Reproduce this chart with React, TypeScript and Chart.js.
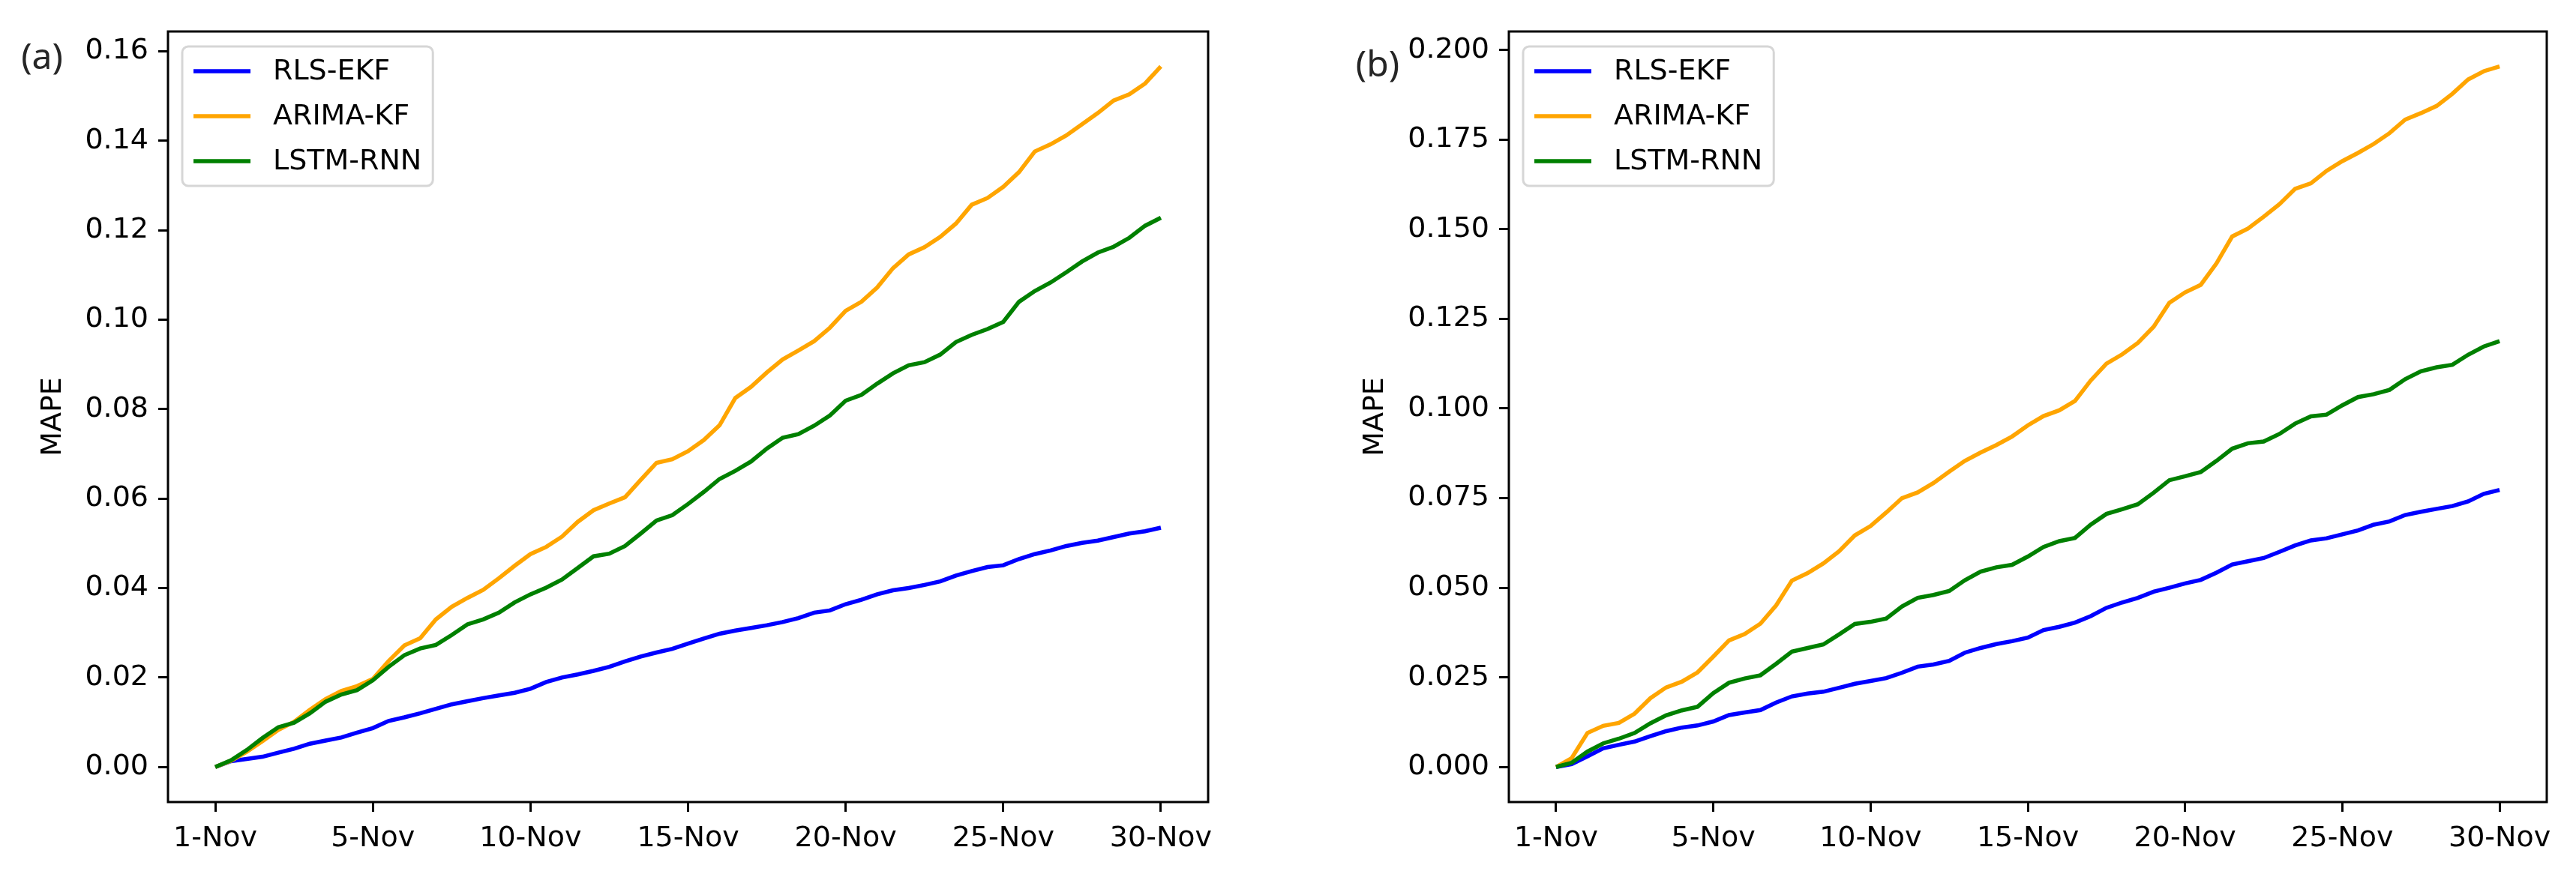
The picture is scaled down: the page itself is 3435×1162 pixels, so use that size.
import React, { useEffect, useRef } from 'react';
import { Chart, registerables } from 'chart.js';

Chart.register(...registerables);
Chart.defaults.font.family = "'DejaVu Sans', 'Liberation Sans', sans-serif";

const xTickLabels = ['1-Nov', '5-Nov', '10-Nov', '15-Nov', '20-Nov', '25-Nov', '30-Nov'];
const seriesNames = ['RLS-EKF', 'ARIMA-KF', 'LSTM-RNN'];
const seriesColors = ['#0000ff', '#ffa500', '#008000'];

const yTicksA = [0, 0.02, 0.04, 0.06, 0.08, 0.1, 0.12, 0.14, 0.16];
const yTicksB = [0, 0.025, 0.05, 0.075, 0.1, 0.125, 0.15, 0.175, 0.2];

const aRlsEkf = [0, 0.0013, 0.0018, 0.0023, 0.0032, 0.0041, 0.0052, 0.0059, 0.0066, 0.0077,
  0.0087, 0.0103, 0.0111, 0.0120, 0.0130, 0.0140, 0.0147, 0.0154, 0.0160, 0.0166,
  0.0175, 0.0190, 0.0200, 0.0207, 0.0215, 0.0224, 0.0236, 0.0247, 0.0256, 0.0264,
  0.0276, 0.0287, 0.0298, 0.0305, 0.0311, 0.0317, 0.0324, 0.0333, 0.0345, 0.0350,
  0.0364, 0.0374, 0.0386, 0.0395, 0.0400, 0.0407, 0.0415, 0.0428, 0.0438, 0.0447,
  0.0451, 0.0465, 0.0476, 0.0484, 0.0494, 0.0501, 0.0506, 0.0514, 0.0522, 0.0527,
  0.0535];
const aArimaKf = [0, 0.0014, 0.0034, 0.0058, 0.0083, 0.0101, 0.0128, 0.0152, 0.0170, 0.0181,
  0.0197, 0.0237, 0.0272, 0.0288, 0.0330, 0.0358, 0.0378, 0.0396, 0.0422, 0.0450,
  0.0476, 0.0492, 0.0515, 0.0548, 0.0574, 0.0589, 0.0603, 0.0642, 0.0680, 0.0688,
  0.0706, 0.0731, 0.0764, 0.0825, 0.0850, 0.0882, 0.0911, 0.0931, 0.0952, 0.0982,
  0.1020, 0.1040, 0.1072, 0.1115, 0.1146, 0.1162, 0.1185, 0.1215, 0.1257, 0.1272,
  0.1297, 0.1330, 0.1376, 0.1392, 0.1412, 0.1437, 0.1462, 0.1490, 0.1504, 0.1528,
  0.1566];
const aLstmRnn = [0, 0.0015, 0.0038, 0.0065, 0.0089, 0.0099, 0.0120, 0.0146, 0.0162, 0.0172,
  0.0194, 0.0224, 0.0250, 0.0265, 0.0273, 0.0295, 0.0319, 0.0330, 0.0345, 0.0368,
  0.0386, 0.0401, 0.0419, 0.0445, 0.0471, 0.0477, 0.0494, 0.0522, 0.0551, 0.0563,
  0.0588, 0.0615, 0.0644, 0.0662, 0.0683, 0.0712, 0.0736, 0.0744, 0.0763, 0.0786,
  0.0819, 0.0832, 0.0857, 0.0880, 0.0898, 0.0905, 0.0922, 0.0950, 0.0966, 0.0979,
  0.0995, 0.1040, 0.1064, 0.1083, 0.1106, 0.1130, 0.1150, 0.1163, 0.1183, 0.1210,
  0.1228];

const bRlsEkf = [0, 0.0008, 0.0030, 0.0052, 0.0062, 0.0071, 0.0086, 0.0100, 0.0110, 0.0116,
  0.0127, 0.0145, 0.0152, 0.0159, 0.0180, 0.0197, 0.0205, 0.0210, 0.0221, 0.0232,
  0.0240, 0.0248, 0.0263, 0.0280, 0.0286, 0.0296, 0.0319, 0.0332, 0.0343, 0.0351,
  0.0361, 0.0382, 0.0391, 0.0403, 0.0421, 0.0444, 0.0459, 0.0472, 0.0489, 0.0500,
  0.0512, 0.0522, 0.0542, 0.0565, 0.0574, 0.0583, 0.0600, 0.0618, 0.0632, 0.0638,
  0.0649, 0.0660, 0.0676, 0.0685, 0.0703, 0.0712, 0.0720, 0.0728, 0.0741, 0.0762,
  0.0773];
const bArimaKf = [0, 0.0025, 0.0095, 0.0115, 0.0123, 0.0149, 0.0192, 0.0222, 0.0238, 0.0264,
  0.0308, 0.0353, 0.0371, 0.0400, 0.0451, 0.0520, 0.0541, 0.0568, 0.0602, 0.0646,
  0.0672, 0.0710, 0.0750, 0.0766, 0.0792, 0.0824, 0.0854, 0.0877, 0.0898, 0.0922,
  0.0953, 0.0979, 0.0995, 0.1021, 0.1078, 0.1125, 0.1151, 0.1183, 0.1228, 0.1295,
  0.1324, 0.1345, 0.1405, 0.1480, 0.1502, 0.1535, 0.1570, 0.1613, 0.1628, 0.1663,
  0.1690, 0.1713, 0.1738, 0.1768, 0.1806, 0.1824, 0.1844, 0.1878, 0.1918, 0.1941,
  0.1954];
const bLstmRnn = [0, 0.0012, 0.0043, 0.0066, 0.0079, 0.0095, 0.0122, 0.0144, 0.0158, 0.0168,
  0.0206, 0.0235, 0.0247, 0.0256, 0.0288, 0.0322, 0.0332, 0.0342, 0.0370, 0.0399,
  0.0405, 0.0414, 0.0448, 0.0472, 0.0480, 0.0491, 0.0521, 0.0545, 0.0557, 0.0564,
  0.0587, 0.0614, 0.0630, 0.0639, 0.0676, 0.0706, 0.0719, 0.0733, 0.0765, 0.0800,
  0.0811, 0.0823, 0.0854, 0.0888, 0.0903, 0.0908, 0.0929, 0.0958, 0.0978, 0.0983,
  0.1009, 0.1032, 0.1040, 0.1052, 0.1082, 0.1104, 0.1115, 0.1122, 0.1150, 0.1173,
  0.1188];

const FS = 38;
const CANVAS_H = 1162;

const decorPlugin = {
  id: 'panelDecor',
  afterDatasetsDraw(chart: any, _args: any, opts: any) {
    const { ctx, chartArea: ca } = chart;
    ctx.save();
    // spines
    ctx.strokeStyle = '#000';
    ctx.lineWidth = 3;
    ctx.strokeRect(ca.left, ca.top, ca.right - ca.left, ca.bottom - ca.top);
    // legend (upper left inside axes)
    ctx.font = `${FS}px 'DejaVu Sans'`;
    const names: string[] = chart.data.datasets.map((d: any) => d.label);
    const maxW = Math.max(...names.map((n) => ctx.measureText(n).width));
    const bx = ca.left + 19;
    const by = ca.top + 20;
    const bw = 15 + 76 + 30 + maxW + 15;
    const bh = 186;
    ctx.beginPath();
    (ctx as any).roundRect(bx, by, bw, bh, 8);
    ctx.fillStyle = 'rgba(255,255,255,0.8)';
    ctx.fill();
    ctx.strokeStyle = 'rgba(204,204,204,0.8)';
    ctx.lineWidth = 3;
    ctx.stroke();
    chart.data.datasets.forEach((d: any, i: number) => {
      const cy = by + 33 + i * 60;
      ctx.beginPath();
      ctx.strokeStyle = d.borderColor;
      ctx.lineWidth = 5.5;
      ctx.moveTo(bx + 15, cy);
      ctx.lineTo(bx + 91, cy);
      ctx.stroke();
      ctx.fillStyle = '#000';
      ctx.textAlign = 'left';
      ctx.textBaseline = 'middle';
      ctx.fillText(d.label, bx + 121, cy + 1);
    });
    // panel label
    ctx.font = `48px 'Noto Sans'`;
    ctx.fillStyle = '#262626';
    ctx.textAlign = 'center';
    ctx.textBaseline = 'middle';
    ctx.fillText(opts.label, opts.labelX, opts.labelY);
    ctx.restore();
  },
};

function makeConfig(series: number[][], yTicks: number[], decimals: number,
  padL: number, yW: number, padR: number, label: string, labelX: number, labelY: number): any {
  const n = series[0].length - 1;
  const M = Math.max(...series.map((s) => Math.max(...s)));
  const order = [2, 1, 0];
  return {
    type: 'line',
    data: {
      datasets: series.map((vals, k) => ({
        label: seriesNames[k],
        data: vals.map((v, i) => ({ x: i, y: v })),
        borderColor: seriesColors[k],
        backgroundColor: seriesColors[k],
        borderWidth: 5.5,
        pointRadius: 0,
        tension: 0,
        fill: false,
        order: order[k],
      })),
    },
    options: {
      animation: false,
      responsive: false,
      devicePixelRatio: 1,
      layout: { padding: { left: padL, right: padR, top: 42, bottom: 0 } },
      plugins: {
        legend: { display: false },
        tooltip: { enabled: false },
        panelDecor: { label, labelX, labelY },
      },
      scales: {
        x: {
          type: 'linear',
          min: -0.05 * n,
          max: 1.05 * n,
          afterBuildTicks: (s: any) => {
            s.ticks = xTickLabels.map((_, i) => ({ value: (i * n) / (xTickLabels.length - 1) }));
          },
          afterFit: (s: any) => { s.height = CANVAS_H - 1070; },
          ticks: {
            autoSkip: false,
            maxRotation: 0,
            minRotation: 0,
            padding: 13,
            color: '#000',
            font: { size: FS },
            callback: (v: number) => xTickLabels[Math.round((v * (xTickLabels.length - 1)) / n)],
          },
          grid: {
            drawOnChartArea: false,
            drawTicks: true,
            tickLength: 13,
            tickWidth: 3,
            tickColor: '#000',
            lineWidth: 3,
            color: '#000',
          },
          border: { display: false },
        },
        y: {
          type: 'linear',
          min: -0.05 * M,
          max: 1.05 * M,
          afterBuildTicks: (s: any) => { s.ticks = yTicks.map((v) => ({ value: v })); },
          afterFit: (s: any) => { s.width = yW; },
          ticks: {
            padding: 13,
            color: '#000',
            font: { size: FS },
            callback: (v: number) => v.toFixed(decimals),
          },
          grid: {
            drawOnChartArea: false,
            drawTicks: true,
            tickLength: 13,
            tickWidth: 3,
            tickColor: '#000',
            lineWidth: 3,
            color: '#000',
          },
          border: { display: false },
          title: {
            display: true,
            text: 'MAPE',
            color: '#000',
            font: { size: FS, lineHeight: 1.2 },
            padding: 0,
          },
        },
      },
    },
    plugins: [decorPlugin],
  };
}

function Panel({ left, width, config }: { left: number; width: number; config: () => any }) {
  const ref = useRef<HTMLCanvasElement>(null);
  useEffect(() => {
    const chart = new Chart(ref.current as HTMLCanvasElement, config());
    return () => chart.destroy();
  }, []);
  return (
    <canvas
      ref={ref}
      width={width}
      height={CANVAS_H}
      style={{ position: 'absolute', left, top: 0, width, height: CANVAS_H, display: 'block' }}
    />
  );
}

export default function App() {
  const wA = 1717;
  const wB = 3435 - 1717;
  return (
    <div style={{ position: 'absolute', left: 0, top: 0, width: 3435, height: CANVAS_H, background: '#fff', overflow: 'hidden' }}>
      <Panel
        left={0}
        width={wA}
        config={() => makeConfig([aRlsEkf, aArimaKf, aLstmRnn], yTicksA, 2, 48, 176, wA - 1611, '(a)', 56, 78)}
      />
      <Panel
        left={wA}
        width={wB}
        config={() => makeConfig([bRlsEkf, bArimaKf, bLstmRnn], yTicksB, 3, 94, 201, wB - 1679, '(b)', 120, 88)}
      />
    </div>
  );
}
